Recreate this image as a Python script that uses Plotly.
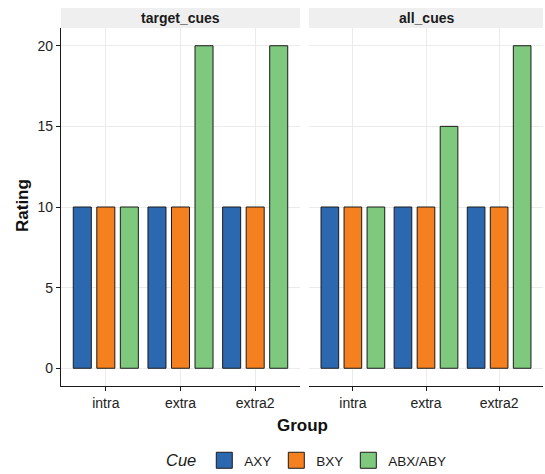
import plotly.graph_objects as go

groups = ["intra", "extra", "extra2"]
cues = ["AXY", "BXY", "ABX/ABY"]
facets = ["target_cues", "all_cues"]
target_cues_vals = {"AXY": [10, 10, 10], "BXY": [10, 10, 10], "ABX/ABY": [10, 20, 20]}
all_cues_vals = {"AXY": [10, 10, 10], "BXY": [10, 10, 10], "ABX/ABY": [10, 15, 20]}
colors = {"AXY": "#2C68B0", "BXY": "#F4801F", "ABX/ABY": "#7FC97F"}
y_ticks = [0, 5, 10, 15, 20]

FONT = "Liberation Sans, Arial, Helvetica, sans-serif"
W, H = 545, 474
ML, MR, MT, MB = 61, 2, 28, 88
PW = W - ML - MR
PH = H - MT - MB

fig = go.Figure()
facet_data = [target_cues_vals, all_cues_vals]
for i, data in enumerate(facet_data):
    xa = "x" if i == 0 else "x2"
    ya = "y" if i == 0 else "y2"
    for cue in cues:
        fig.add_trace(go.Bar(
            x=groups, y=data[cue], name=cue, xaxis=xa, yaxis=ya,
            marker=dict(color=colors[cue], line=dict(color="#1a1a1a", width=1)),
            showlegend=False, offsetgroup=cue,
        ))
# legend proxies
for cue in cues:
    fig.add_trace(go.Scatter(
        x=[None], y=[None], mode="markers", name=cue,
        marker=dict(symbol="square", size=16, color=colors[cue],
                    line=dict(color="#1a1a1a", width=1)),
        showlegend=True, xaxis="x", yaxis="y",
    ))

d1 = (300 - ML) / PW
d2 = (309 - ML) / PW

common_x = dict(type="category", range=[-0.6, 2.6], showgrid=True, gridcolor="#EBEBEB",
                gridwidth=1, showline=True, linecolor="#1a1a1a", linewidth=1.2,
                ticks="outside", ticklen=4, tickcolor="#1a1a1a", tickwidth=1,
                tickfont=dict(size=14, color="#222222", family=FONT), zeroline=False,
                fixedrange=True)
common_y = dict(range=[-1.1, 21.1], tickvals=y_ticks, showgrid=True, gridcolor="#EBEBEB",
                gridwidth=1, zeroline=False, fixedrange=True)

fig.update_layout(
    width=W, height=H, margin=dict(l=ML, r=MR, t=MT, b=MB, autoexpand=False),
    paper_bgcolor="white", plot_bgcolor="white",
    font=dict(family=FONT, color="#1a1a1a"),
    barmode="group", bargap=0.055, bargroupgap=0.234,
    xaxis=dict(domain=[0, d1], anchor="y", **common_x),
    xaxis2=dict(domain=[d2, 1], anchor="y2", **common_x),
    yaxis=dict(domain=[0, 1], anchor="x", showline=True, linecolor="#1a1a1a", linewidth=1.2,
               ticks="outside", ticklen=4, tickcolor="#1a1a1a", tickwidth=1,
               tickfont=dict(size=14, color="#222222", family=FONT), **common_y),
    yaxis2=dict(domain=[0, 1], anchor="x2", showline=False, showticklabels=False,
                ticks="", **common_y),
    legend=dict(orientation="h", x=(308 - ML) / PW, xanchor="center",
                y=(MT + PH - 461) / PH, yanchor="middle",
                title=dict(text="<i>Cue</i>", font=dict(size=16.5, family=FONT)),
                font=dict(size=13.5, family=FONT), itemsizing="trace",
                itemwidth=30, tracegroupgap=0),
    showlegend=True,
)

strip_h = 20 / PH
shapes = []
annotations = []
for i, f in enumerate(facets):
    xr = "x domain" if i == 0 else "x2 domain"
    shapes.append(dict(type="rect", xref=xr, yref="paper", x0=0, x1=1, y0=1, y1=1 + strip_h,
                       fillcolor="#EFEFEF", line=dict(width=0), layer="below"))
    annotations.append(dict(text="<b>" + f + "</b>", xref=xr, yref="paper", x=0.5,
                            y=1 + strip_h / 2, showarrow=False, xanchor="center",
                            yanchor="middle", font=dict(size=14, family=FONT, color="#1a1a1a")))

annotations.append(dict(text="<b>Group</b>", xref="paper", yref="paper",
                        x=(302 - ML) / PW, y=(MT + PH - 425) / PH, showarrow=False,
                        xanchor="center", yanchor="middle",
                        font=dict(size=17, family=FONT, color="#111111")))
annotations.append(dict(text="<b>Rating</b>", xref="paper", yref="paper",
                        x=(22 - ML) / PW, y=(MT + PH - 206) / PH, showarrow=False,
                        xanchor="center", yanchor="middle", textangle=-90,
                        font=dict(size=17, family=FONT, color="#111111")))
fig.update_layout(shapes=shapes, annotations=annotations)

fig.write_html("out.html", config={"displayModeBar": False},
               post_script="document.body.style.margin='0';document.body.style.overflow='hidden';")
